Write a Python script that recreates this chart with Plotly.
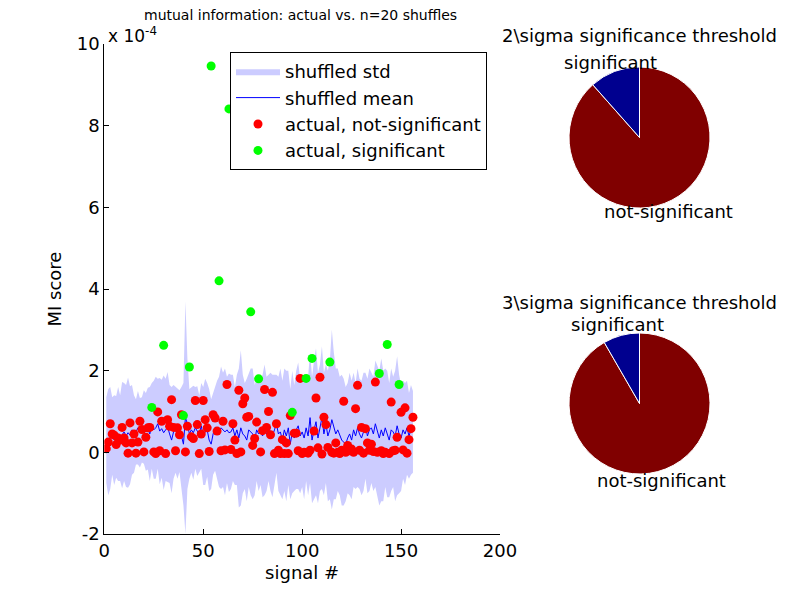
import plotly.graph_objects as go

# page has an 8px body margin: figure sized to fit the 801x600 window
OFF = 8
W, H = 801 - OFF, 600 - OFF

# signal index 1..156
signals = list(range(1, 157))

# actual MI score (units of 1e-4)
mi_actual = [
    0.09, 0.25, 0.70, 0.45, 0.42, 0.19, 0.35, 0.30, 0.61, 0.35,
    0.23, -0.02, 0.72, 0.23, 0.45, -0.02, 0.25, 0.76, 0.56, 0.01,
    0.37, 0.60, 0.61, 1.10, 0.01, -0.03, 0.99, 0.04, 0.76, 2.62,
    -0.03, 0.80, 0.64, 1.29, 0.61, 0.04, 0.60, 0.43, 0.92, 0.90,
    0.01, 0.64, 2.09, 0.38, 0.34, 1.27, 0.68, -0.03, 0.45, 1.27,
    0.80, 0.60, 0.02, 9.46, 0.92, 0.84, 0.52, 4.20, 0.04, 0.76,
    0.06, 1.66, 8.41, 0.07, 0.70, 0.30, -0.03, 1.52, 0.01, 1.19,
    1.33, 0.86, 0.88, 3.44, 0.17, 0.34, 0.74, 1.80, 0.01, 0.53,
    1.54, 0.61, 1.00, 0.43, 1.47, -0.03, 0.70, 0.05, -0.03, 0.31,
    -0.03, 0.23, -0.03, 0.90, 0.98, 0.47, 0.47, 0.04, 1.81, -0.03,
    0.00, 1.81, -0.02, 0.05, 2.30, 0.52, 1.33, 0.11, 1.84, -0.04,
    0.86, 0.68, 0.12, 2.21, 0.00, -0.02, 0.23, 0.00, -0.03, 0.05,
    1.25, 0.00, 0.17, 0.04, 0.08, 0.00, 1.07, 1.64, 0.05, 0.61,
    -0.02, 0.58, 0.23, 0.05, 0.20, 0.02, 1.72, 0.00, 1.93, 0.04,
    -0.03, 0.00, 2.64, -0.03, 1.23, 0.04, 0.05, 0.37, 1.66, 0.98,
    0.06, 1.09, -0.02, 0.31, 0.58, 0.86,
]

# signals flagged significant (2 sigma)
significant_signals = [24, 30, 40, 43, 54, 58, 63, 74, 78, 95, 102, 105,
                       114, 139, 143, 149]

# shuffled mean and std (units of 1e-4)
shuffled_mean = [
    0.30, 0.25, 0.35, 0.40, 0.30, 0.38, 0.45, 0.35, 0.42, 0.50,
    0.40, 0.48, 0.42, 0.55, 0.45, 0.50, 0.60, 0.48, 0.55, 0.62,
    0.50, 0.58, 0.45, 0.65, 0.55, 0.60, 0.70, 0.52, 0.58, 0.48,
    0.55, 0.62, 0.45, 0.30, 0.50, 0.55, 0.45, 0.52, 0.40, 0.20,
    0.85, 0.70, 0.45, 0.55, 0.48, 0.60, 0.52, 0.45, 0.65, 0.40,
    0.50, 0.55, 0.30, 0.20, 0.45, 0.60, 0.55, 0.50, 0.60, 0.55,
    0.50, 0.55, 0.48, 0.50, 0.60, 0.40, 0.55, 0.35, 0.60, 0.45,
    0.40, 0.30, 0.55, 0.50, 0.45, 0.30, 0.55, 0.45, 0.50, 0.40,
    0.55, 0.45, 0.60, 0.50, 0.40, 0.55, 0.70, 0.45, 0.50, 0.30,
    0.55, 0.40, 0.60, 0.20, 0.50, 0.35, 0.55, 0.65, 0.40, 0.50,
    0.35, 0.60, 0.40, 0.85, 0.30, 0.55, 0.75, 0.35, 0.60, 0.85,
    0.45, 0.70, 0.40, 0.55, 0.80, 0.65, 0.45, 0.55, 0.40, 0.30,
    0.25, 0.20, 0.35, 0.45, 0.30, 0.55, 0.40, 0.60, 0.45, 0.35,
    0.50, 0.65, 0.40, 0.55, 0.60, 0.45, 0.70, 0.50, 0.35, 0.55,
    0.40, 0.60, 0.45, 0.30, 0.55, 0.50, 0.40, 0.65, 0.45, 0.35,
    0.55, 0.45, 0.60, 0.40, 0.55, 0.50,
]
shuffled_std = [
    1.05, 1.30, 1.25, 0.95, 1.10, 1.00, 1.15, 1.05, 1.30, 1.20,
    1.25, 1.35, 1.20, 1.10, 0.95, 0.80, 0.90, 0.85, 0.80, 0.90,
    0.95, 1.00, 1.15, 1.05, 1.20, 1.25, 1.10, 1.30, 1.20, 1.40,
    1.25, 1.35, 1.20, 1.30, 1.15, 1.05, 1.10, 1.00, 1.20, 1.50,
    2.85, 1.60, 1.10, 1.05, 1.15, 1.00, 1.10, 0.95, 1.05, 1.20,
    1.30, 1.15, 1.25, 1.10, 1.00, 1.05, 1.20, 1.35, 1.50, 1.40,
    1.55, 1.30, 1.45, 1.40, 1.30, 1.20, 1.35, 1.70, 1.90, 1.45,
    1.30, 1.50, 1.40, 1.55, 1.60, 1.35, 1.25, 1.40, 1.30, 1.50,
    1.60, 1.40, 1.30, 1.45, 1.50, 1.35, 1.20, 1.40, 1.55, 1.45,
    1.50, 1.60, 1.40, 1.35, 1.50, 1.30, 1.45, 1.55, 1.40, 1.35,
    1.50, 1.30, 1.45, 1.60, 1.55, 1.70, 1.80, 1.60, 1.55, 1.75,
    1.50, 1.45, 1.60, 1.70, 2.20, 1.80, 1.60, 1.50, 1.45, 1.60,
    1.55, 1.40, 1.35, 1.50, 1.45, 1.40, 1.30, 1.45, 1.35, 1.40,
    1.45, 1.30, 1.40, 1.50, 1.35, 1.40, 1.55, 1.60, 1.65, 1.75,
    1.60, 1.45, 1.55, 1.40, 1.50, 1.35, 1.60, 1.70, 1.45, 1.30,
    1.20, 1.25, 1.15, 1.05, 1.10, 1.00,
]

# pie counts, drawn clockwise from 12 o'clock: [not-significant, significant]
pie_labels = ["not-significant", "significant"]
pie_2sigma = [138, 18]
pie_3sigma = [143, 13]
pie_colors = ["#800000", "#00008F"]

x_ticks = [0, 50, 100, 150, 200]
y_ticks = [-2, 0, 2, 4, 6, 8, 10]

FONT = "DejaVu Sans, Liberation Sans, Arial, sans-serif"
FS = 18


def px(x):
    return (x - OFF) / W


def py(y):
    return 1 - (y - OFF) / H


upper = [m + s for m, s in zip(shuffled_mean, shuffled_std)]
lower = [m - s for m, s in zip(shuffled_mean, shuffled_std)]

sig_set = set(significant_signals)
ns_x = [s for s, v in zip(signals, mi_actual) if s not in sig_set]
ns_y = [v for s, v in zip(signals, mi_actual) if s not in sig_set]
sg_x = [s for s, v in zip(signals, mi_actual) if s in sig_set]
sg_y = [v for s, v in zip(signals, mi_actual) if s in sig_set]

fig = go.Figure()
fig.add_trace(go.Scatter(
    x=signals + signals[::-1], y=upper + lower[::-1],
    fill="toself", fillcolor="#CCCCFF", line=dict(width=0, color="#CCCCFF"),
    mode="lines", name="shuffled std", hoverinfo="skip"))
fig.add_trace(go.Scatter(
    x=signals, y=shuffled_mean, mode="lines",
    line=dict(color="#0000FF", width=1), name="shuffled mean"))
fig.add_trace(go.Scatter(
    x=ns_x, y=ns_y, mode="markers",
    marker=dict(color="#FF0000", size=9), name="actual, not-significant"))
fig.add_trace(go.Scatter(
    x=sg_x, y=sg_y, mode="markers",
    marker=dict(color="#00FF00", size=9), name="actual, significant"))

for vals, y0, y1 in ((pie_2sigma, 208, 67), (pie_3sigma, 474, 333)):
    fig.add_trace(go.Pie(
        values=vals, labels=pie_labels,
        marker=dict(colors=pie_colors, line=dict(color="white", width=1)),
        textinfo="none", textposition="none", sort=False,
        direction="clockwise", rotation=0, showlegend=False,
        domain=dict(x=[px(569), px(710)], y=[py(y0), py(y1)])))

axis_common = dict(showline=True, linecolor="black", linewidth=1,
                   ticks="inside", ticklen=5, tickcolor="black",
                   showgrid=False, zeroline=False, mirror=False,
                   automargin=False,
                   tickfont=dict(family=FONT, size=FS, color="black"))

fig.update_layout(
    width=W, height=H, margin=dict(l=0, r=0, t=0, b=0),
    paper_bgcolor="white", plot_bgcolor="white",
    font=dict(family=FONT, size=FS, color="black"),
    xaxis=dict(domain=[px(104.3), px(500)], range=[0, 200],
               tickvals=x_ticks, ticktext=[str(t) for t in x_ticks],
               title=dict(text="signal #", font=dict(size=FS), standoff=6),
               **axis_common),
    yaxis=dict(domain=[py(534), py(44)], range=[-2, 10],
               tickvals=y_ticks, ticktext=[str(t) for t in y_ticks],
               title=dict(text="MI score", font=dict(size=FS), standoff=10),
               **axis_common),
    legend=dict(x=px(230), y=py(52), xanchor="left", yanchor="top",
                bordercolor="black", borderwidth=1, bgcolor="white",
                font=dict(family=FONT, size=FS), tracegroupgap=0,
                itemwidth=44),
    showlegend=True,
)

ann = [
    dict(text="mutual information: actual vs. n=20 shuffles",
         x=px(300), y=py(15), xanchor="center", yanchor="middle", size=14),
    dict(text="x 10<sup>-4</sup>", x=px(106), y=py(35),
         xanchor="left", yanchor="middle", size=17),
    dict(text="2\\sigma significance threshold", x=px(639), y=py(36),
         xanchor="center", yanchor="middle", size=FS),
    dict(text="significant", x=px(610), y=py(62),
         xanchor="center", yanchor="middle", size=FS),
    dict(text="not-significant", x=px(668), y=py(212),
         xanchor="center", yanchor="middle", size=FS),
    dict(text="3\\sigma significance threshold", x=px(639), y=py(302),
         xanchor="center", yanchor="middle", size=FS),
    dict(text="significant", x=px(617), y=py(324),
         xanchor="center", yanchor="middle", size=FS),
    dict(text="not-significant", x=px(661), y=py(480),
         xanchor="center", yanchor="middle", size=FS),
]
for a in ann:
    size = a.pop("size")
    fig.add_annotation(xref="paper", yref="paper", showarrow=False,
                       font=dict(family=FONT, size=size, color="black"), **a)

fig.write_html("out.html")
